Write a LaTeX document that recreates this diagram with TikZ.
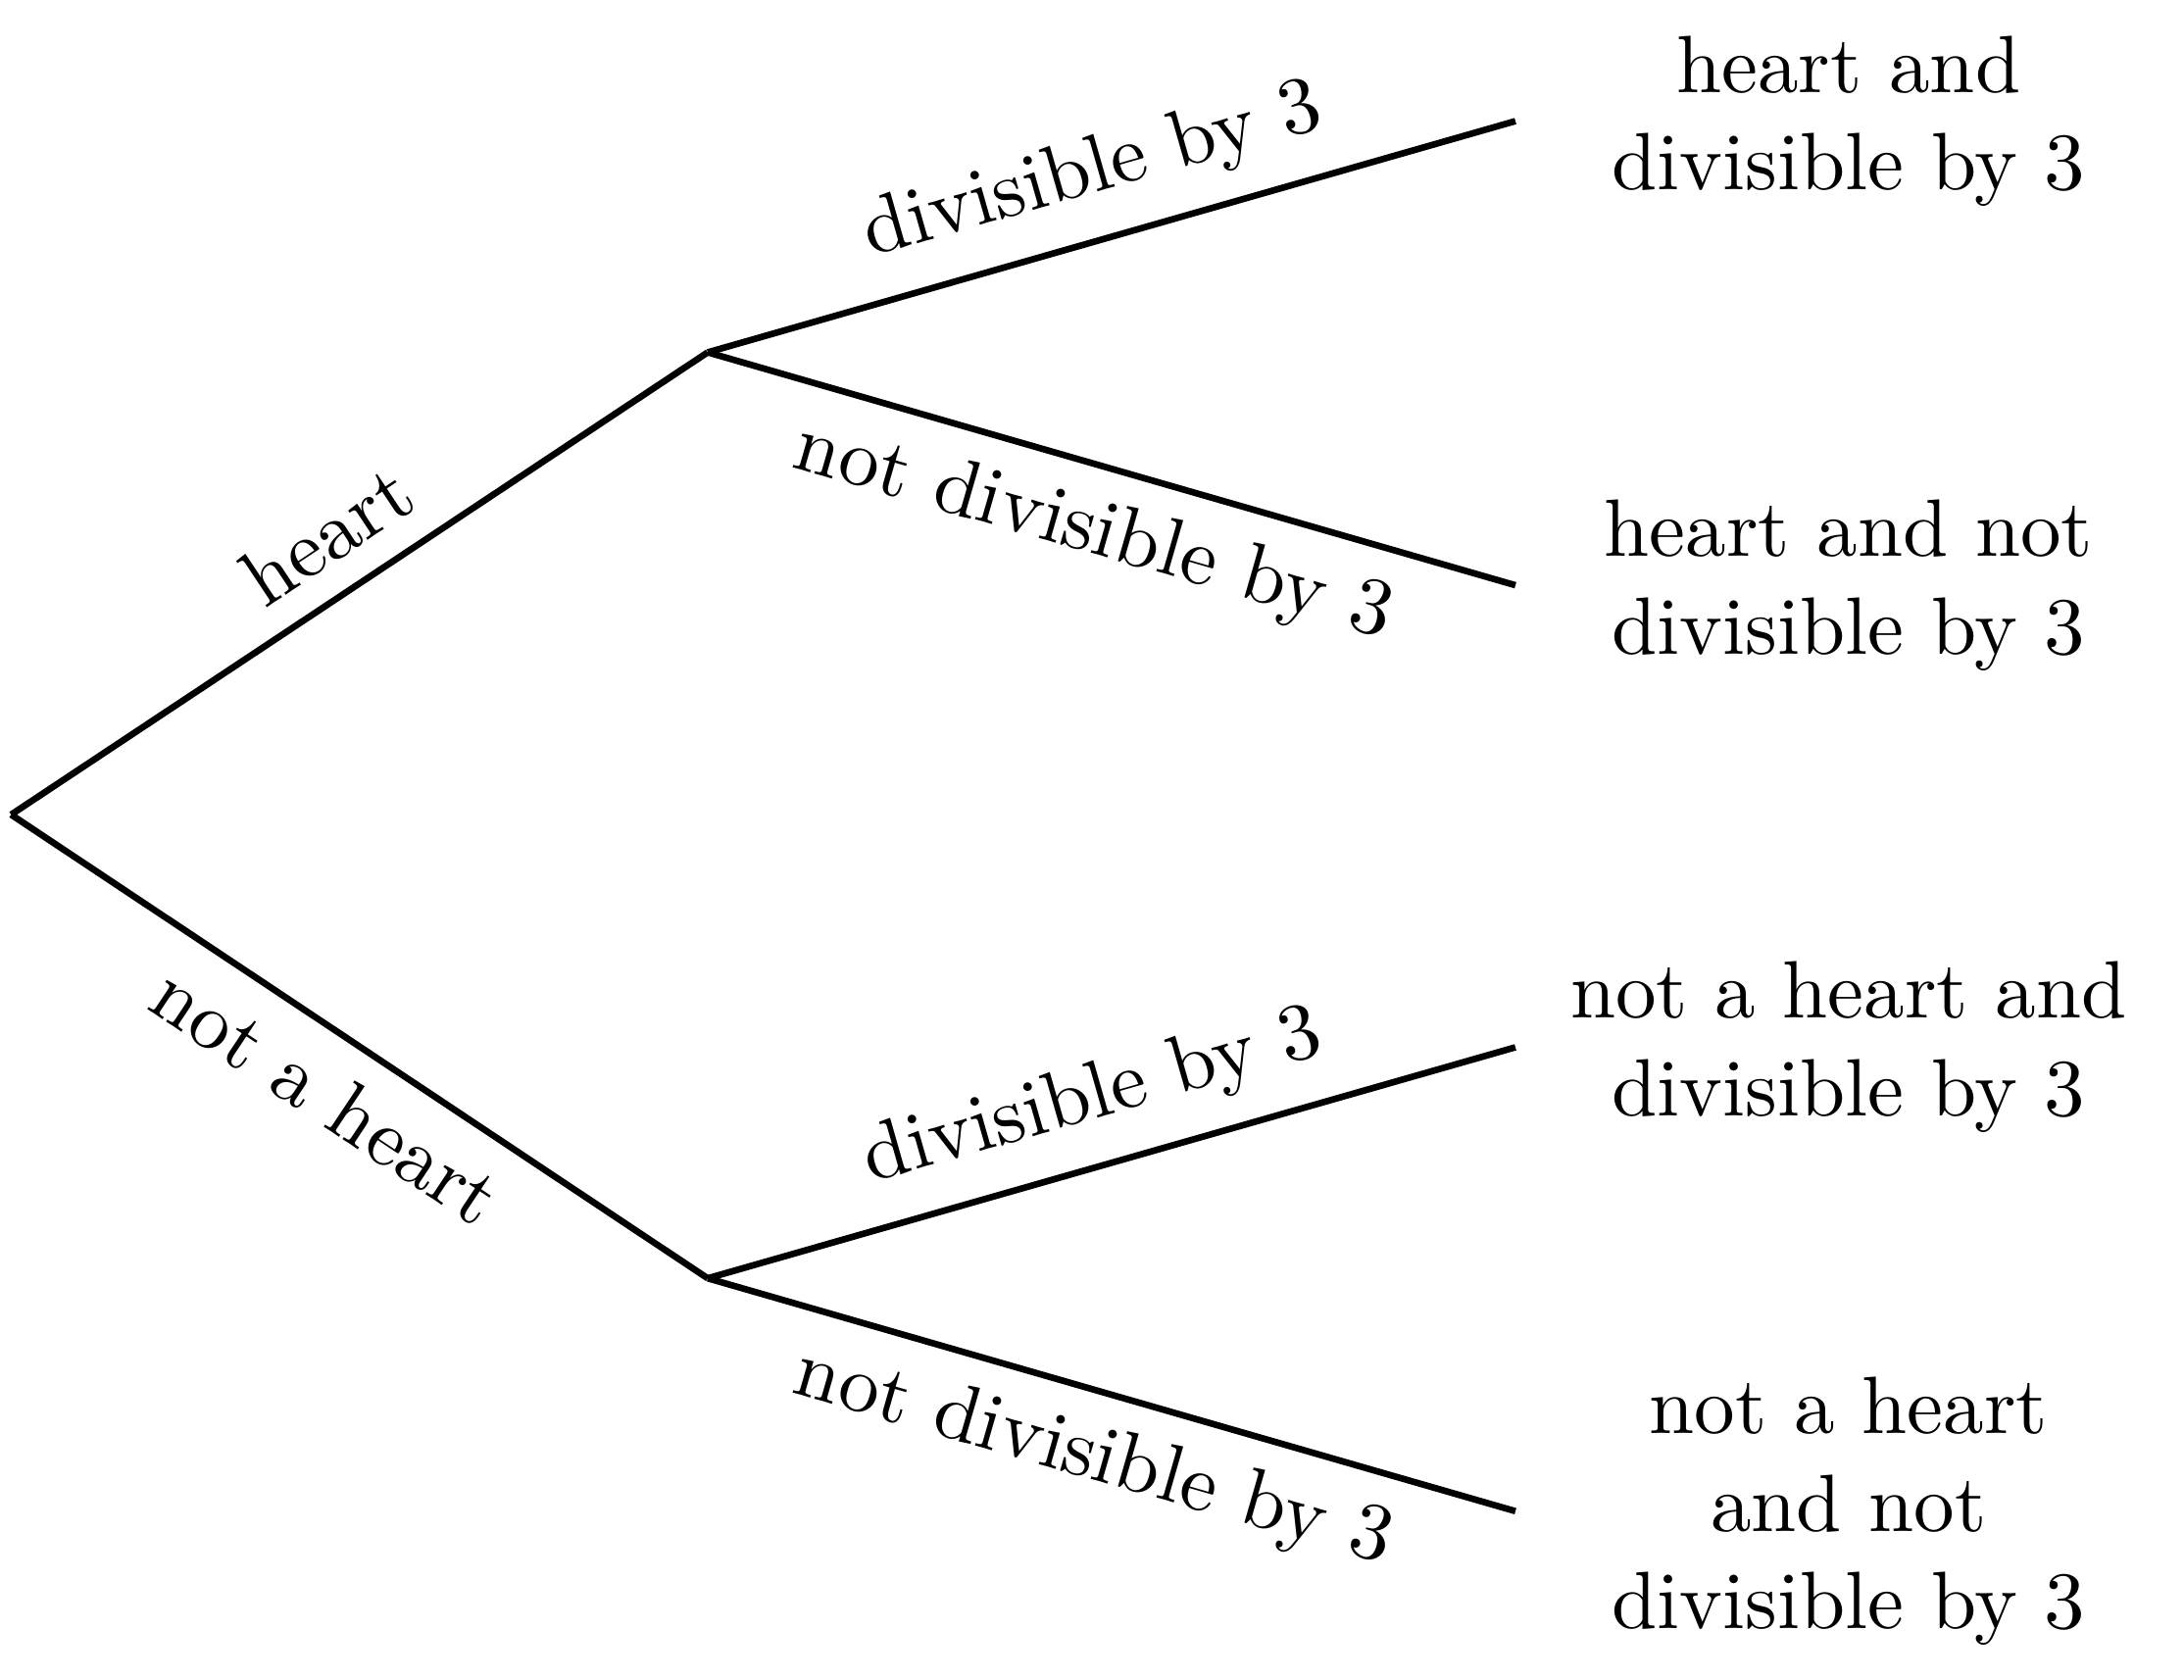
\documentclass[tikz,border=0pt]{standalone}
\begin{document}
\begin{tikzpicture}[
  branch/.style={thick},
  leaf/.style={anchor=west, align=center, text width=2.63cm, inner sep=0.333em},
  lab/.style={midway, sloped, inner sep=0.333em}
]
\useasboundingbox (0,0) rectangle (9.434,-7.254);
\coordinate (R) at (0.048,-3.519);
\coordinate (H) at (3.057,-1.522);
\coordinate (N) at (3.057,-5.522);
\node[leaf] (L1) at (6.546,-0.523) {heart and\\divisible by 3};
\node[leaf] (L2) at (6.546,-2.528) {heart and not\\divisible by 3};
\node[leaf] (L3) at (6.546,-4.524) {not a heart and\\divisible by 3};
\node[leaf] (L4) at (6.546,-6.528) {not a heart\\and not\\divisible by 3};
\draw[branch] (R) -- node[lab, above] {heart} (H);
\draw[branch] (R) -- node[lab, below] {not a heart} (N);
\draw[branch] (H) -- node[lab, above] {divisible by 3} (L1.west);
\draw[branch] (H) -- node[lab, below] {not divisible by 3} (L2.west);
\draw[branch] (N) -- node[lab, above] {divisible by 3} (L3.west);
\draw[branch] (N) -- node[lab, below] {not divisible by 3} (L4.west);
\end{tikzpicture}
\end{document}
